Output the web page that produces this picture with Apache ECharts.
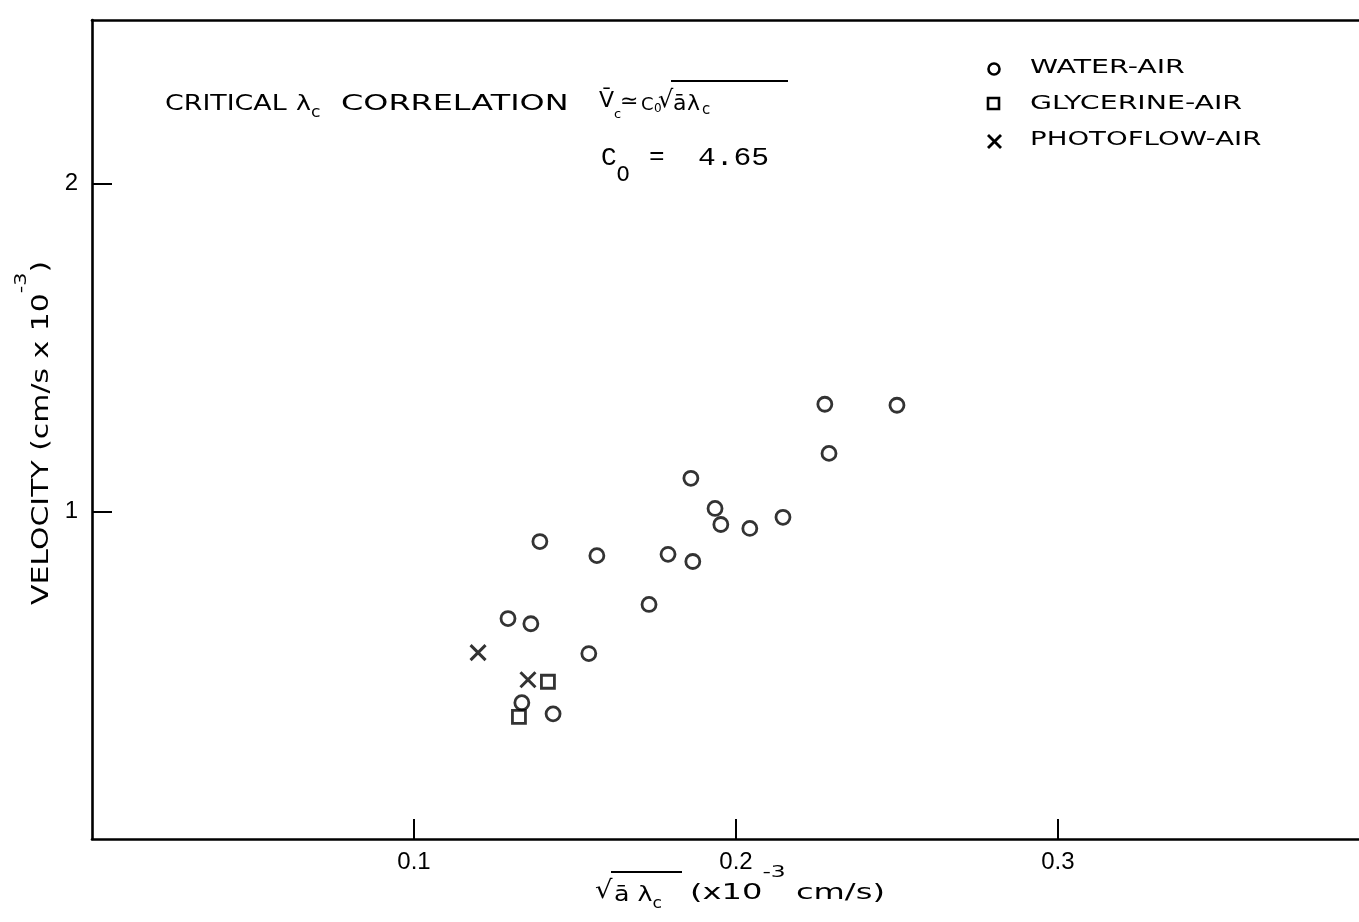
<!DOCTYPE html>
<html>
<head>
<meta charset="utf-8">
<title>Critical wavelength correlation</title>
<script src="https://cdn.jsdelivr.net/npm/echarts@6/dist/echarts.min.js"></script>
<style>
  html, body { margin: 0; padding: 0; background: #ffffff; }
  #chart { width: 1359px; height: 922px; }
</style>
</head>
<body>
<div id="chart"></div>
<script>
// Series names (legend order)
const seriesNames = ['WATER-AIR', 'GLYCERINE-AIR', 'PHOTOFLOW-AIR'];

// x: sqrt(a * lambda_c)  (x 10^-3 cm/s), y: velocity (cm/s x 10^-3)
const waterAirX = [0.2276, 0.2500, 0.2289, 0.1860, 0.1935, 0.1953, 0.2043, 0.2146, 0.1391,
                   0.1568, 0.1789, 0.1866, 0.1730, 0.1292, 0.1363, 0.1543, 0.1335, 0.1432];
const waterAirY = [1.327, 1.324, 1.177, 1.101, 1.009, 0.960, 0.948, 0.982, 0.908,
                   0.865, 0.869, 0.847, 0.716, 0.673, 0.657, 0.566, 0.416, 0.382];
const glycerineAirX = [0.1416, 0.1326];
const glycerineAirY = [0.480, 0.373];
const photoflowAirX = [0.1199, 0.1354];
const photoflowAirY = [0.569, 0.486];

// Axis tick positions and labels
const xTickValues = [0.1, 0.2, 0.3];
const xTickLabels = ['0.1', '0.2', '0.3'];
const yTickValues = [1, 2];
const yTickLabels = ['1', '2'];

const INK = '#000000';
const SANS = '"DejaVu Sans", "Liberation Sans", sans-serif';
const NARROW = '"Liberation Sans", "DejaVu Sans", sans-serif';
const MONO = '"Liberation Mono", "DejaVu Sans Mono", monospace';

const zip = (xs, ys) => xs.map((x, i) => [x, ys[i]]);
const lookup = (values, labels) => v => {
  const i = values.findIndex(t => Math.abs(t - v) < 1e-9);
  return i < 0 ? '' : labels[i];
};

const CROSS = 'path://M0,0L10,10M10,0L0,10';

// Text helper: hand-lettered captions are drawn stretched horizontally (scaleX)
function caption(x, y, text, o = {}) {
  const size = o.size || 20;
  const font = o.font || SANS;
  const subSize = o.subSize || Math.round(size * 0.68);
  const supSize = o.supSize || Math.round(size * 0.72);
  return {
    type: 'text', x, y, silent: true, z: 20,
    rotation: o.rotation || 0,
    scaleX: o.scaleX == null ? 1 : o.scaleX, scaleY: 1,
    style: {
      text, fill: INK, fontFamily: font, fontSize: size,
      align: 'left', verticalAlign: 'middle',
      textAlign: 'left', textVerticalAlign: 'middle',
      lineHeight: o.lineHeight || Math.round(size * 1.5),
      rich: {
        sub: { fontSize: subSize, fontFamily: o.subFont || font, fill: INK,
               verticalAlign: 'bottom', lineHeight: subSize },
        sup: { fontSize: supSize, fontFamily: font, fill: INK,
               verticalAlign: 'top', lineHeight: supSize }
      }
    }
  };
}
function rule(x1, y1, x2, y2, w) {
  return { type: 'line', silent: true, z: 20,
    shape: { x1, y1, x2, y2 }, style: { stroke: INK, lineWidth: w || 2 } };
}

const legendGraphics = [
  { type: 'circle', silent: true, z: 20, shape: { cx: 994, cy: 69, r: 5.5 },
    style: { fill: 'none', stroke: INK, lineWidth: 2.6 } },
  { type: 'rect', silent: true, z: 20, shape: { x: 988, y: 98, width: 11, height: 11 },
    style: { fill: 'none', stroke: INK, lineWidth: 2.6 } },
  rule(988, 135, 1001, 148, 2.8),
  rule(1001, 135, 988, 148, 2.8),
  caption(1030, 68, seriesNames[0], { size: 20, scaleX: 1.42 }),
  caption(1030, 104, seriesNames[1], { size: 20, scaleX: 1.42 }),
  caption(1030, 140, seriesNames[2], { size: 20, scaleX: 1.38 })
];

const annotationGraphics = [
  caption(165, 104, 'CRITICAL', { size: 22, scaleX: 1.22 }),
  caption(296, 104, 'λ{sub|c}', { size: 22, scaleX: 1.15, lineHeight: 34 }),
  caption(341, 104, 'CORRELATION', { size: 22, scaleX: 1.45 }),
  // V̄c ≃ C0 √(ā λc)
  caption(599, 101, 'V\u0304', { size: 22 }),
  caption(614, 115, 'c', { size: 13 }),
  caption(620, 102, '≃', { size: 22 }),
  caption(641, 105, 'C', { size: 18 }),
  caption(654, 109, '0', { size: 12 }),
  caption(658, 101, '√', { size: 24 }),
  caption(673, 104, 'ā', { size: 22 }),
  caption(687, 104, 'λ', { size: 22 }),
  caption(702, 110, 'c', { size: 15 }),
  rule(671, 81, 788, 81, 2),
  // C0 = 4.65
  caption(601, 158, 'C{sub|O}', { font: MONO, size: 26, subSize: 22, lineHeight: 56 }),
  caption(649, 157, '=', { font: MONO, size: 26 }),
  caption(698, 158, '4.65', { font: MONO, size: 26, scaleX: 1.14 })
];

const axisTitleGraphics = [
  // x axis title: √(ā λc) (x10^-3 cm/s)
  caption(595, 891, '√', { size: 25, scaleX: 1.1 }),
  caption(614, 895, 'ā λ{sub|c}', { size: 22, scaleX: 1.15, lineHeight: 34 }),
  rule(611, 872, 682, 872, 2),
  caption(690, 893, '(x10{sup|-3} cm/s)', { size: 22, scaleX: 1.46, supSize: 16, lineHeight: 56 }),
  // y axis title, reading bottom to top
  caption(42, 605, 'VELOCITY (cm/s x 10{sup|-3})',
    { rotation: Math.PI / 2, size: 23, scaleX: 1.3, supSize: 16, lineHeight: 56 })
];

const axisLineStyle = { color: INK, width: 2.6 };
const tickStyle = { color: INK, width: 2 };

const chart = echarts.init(document.getElementById('chart'), null, { renderer: 'canvas' });
chart.setOption({
  backgroundColor: '#ffffff',
  animation: false,
  grid: { left: 92, right: 0, top: 20, bottom: 83, containLabel: false },
  xAxis: [{
    type: 'value', min: 0, max: 0.3935, interval: 0.1,
    axisLine: { show: true, onZero: false, lineStyle: axisLineStyle },
    axisTick: { show: true, inside: true, length: 20, lineStyle: tickStyle,
      customValues: xTickValues },
    axisLabel: { margin: 11, color: INK, fontFamily: NARROW, fontSize: 24,
      customValues: xTickValues, formatter: lookup(xTickValues, xTickLabels) },
    splitLine: { show: false }
  }, {
    type: 'value', position: 'top', min: 0, max: 0.3935,
    axisLine: { show: true, onZero: false, lineStyle: axisLineStyle },
    axisTick: { show: false }, axisLabel: { show: false }, splitLine: { show: false }
  }],
  yAxis: {
    type: 'value', min: 0, max: 2.5, interval: 1,
    axisLine: { show: true, onZero: false, lineStyle: axisLineStyle },
    axisTick: { show: true, inside: true, length: 20, lineStyle: tickStyle,
      customValues: yTickValues },
    axisLabel: { margin: 14, color: INK, fontFamily: NARROW, fontSize: 24,
      customValues: yTickValues, formatter: lookup(yTickValues, yTickLabels) },
    splitLine: { show: false }
  },
  series: [{
    name: seriesNames[0], type: 'scatter', data: zip(waterAirX, waterAirY),
    symbol: 'circle', symbolSize: 14,
    itemStyle: { color: 'rgba(0,0,0,0)', borderColor: INK, borderWidth: 2.8 }
  }, {
    name: seriesNames[1], type: 'scatter', data: zip(glycerineAirX, glycerineAirY),
    symbol: 'rect', symbolSize: 13,
    itemStyle: { color: 'rgba(0,0,0,0)', borderColor: INK, borderWidth: 2.8 }
  }, {
    name: seriesNames[2], type: 'scatter', data: zip(photoflowAirX, photoflowAirY),
    symbol: CROSS, symbolSize: 15,
    itemStyle: { color: 'rgba(0,0,0,0)', borderColor: INK, borderWidth: 3 }
  }],
  graphic: legendGraphics.concat(annotationGraphics, axisTitleGraphics)
});
</script>
</body>
</html>
